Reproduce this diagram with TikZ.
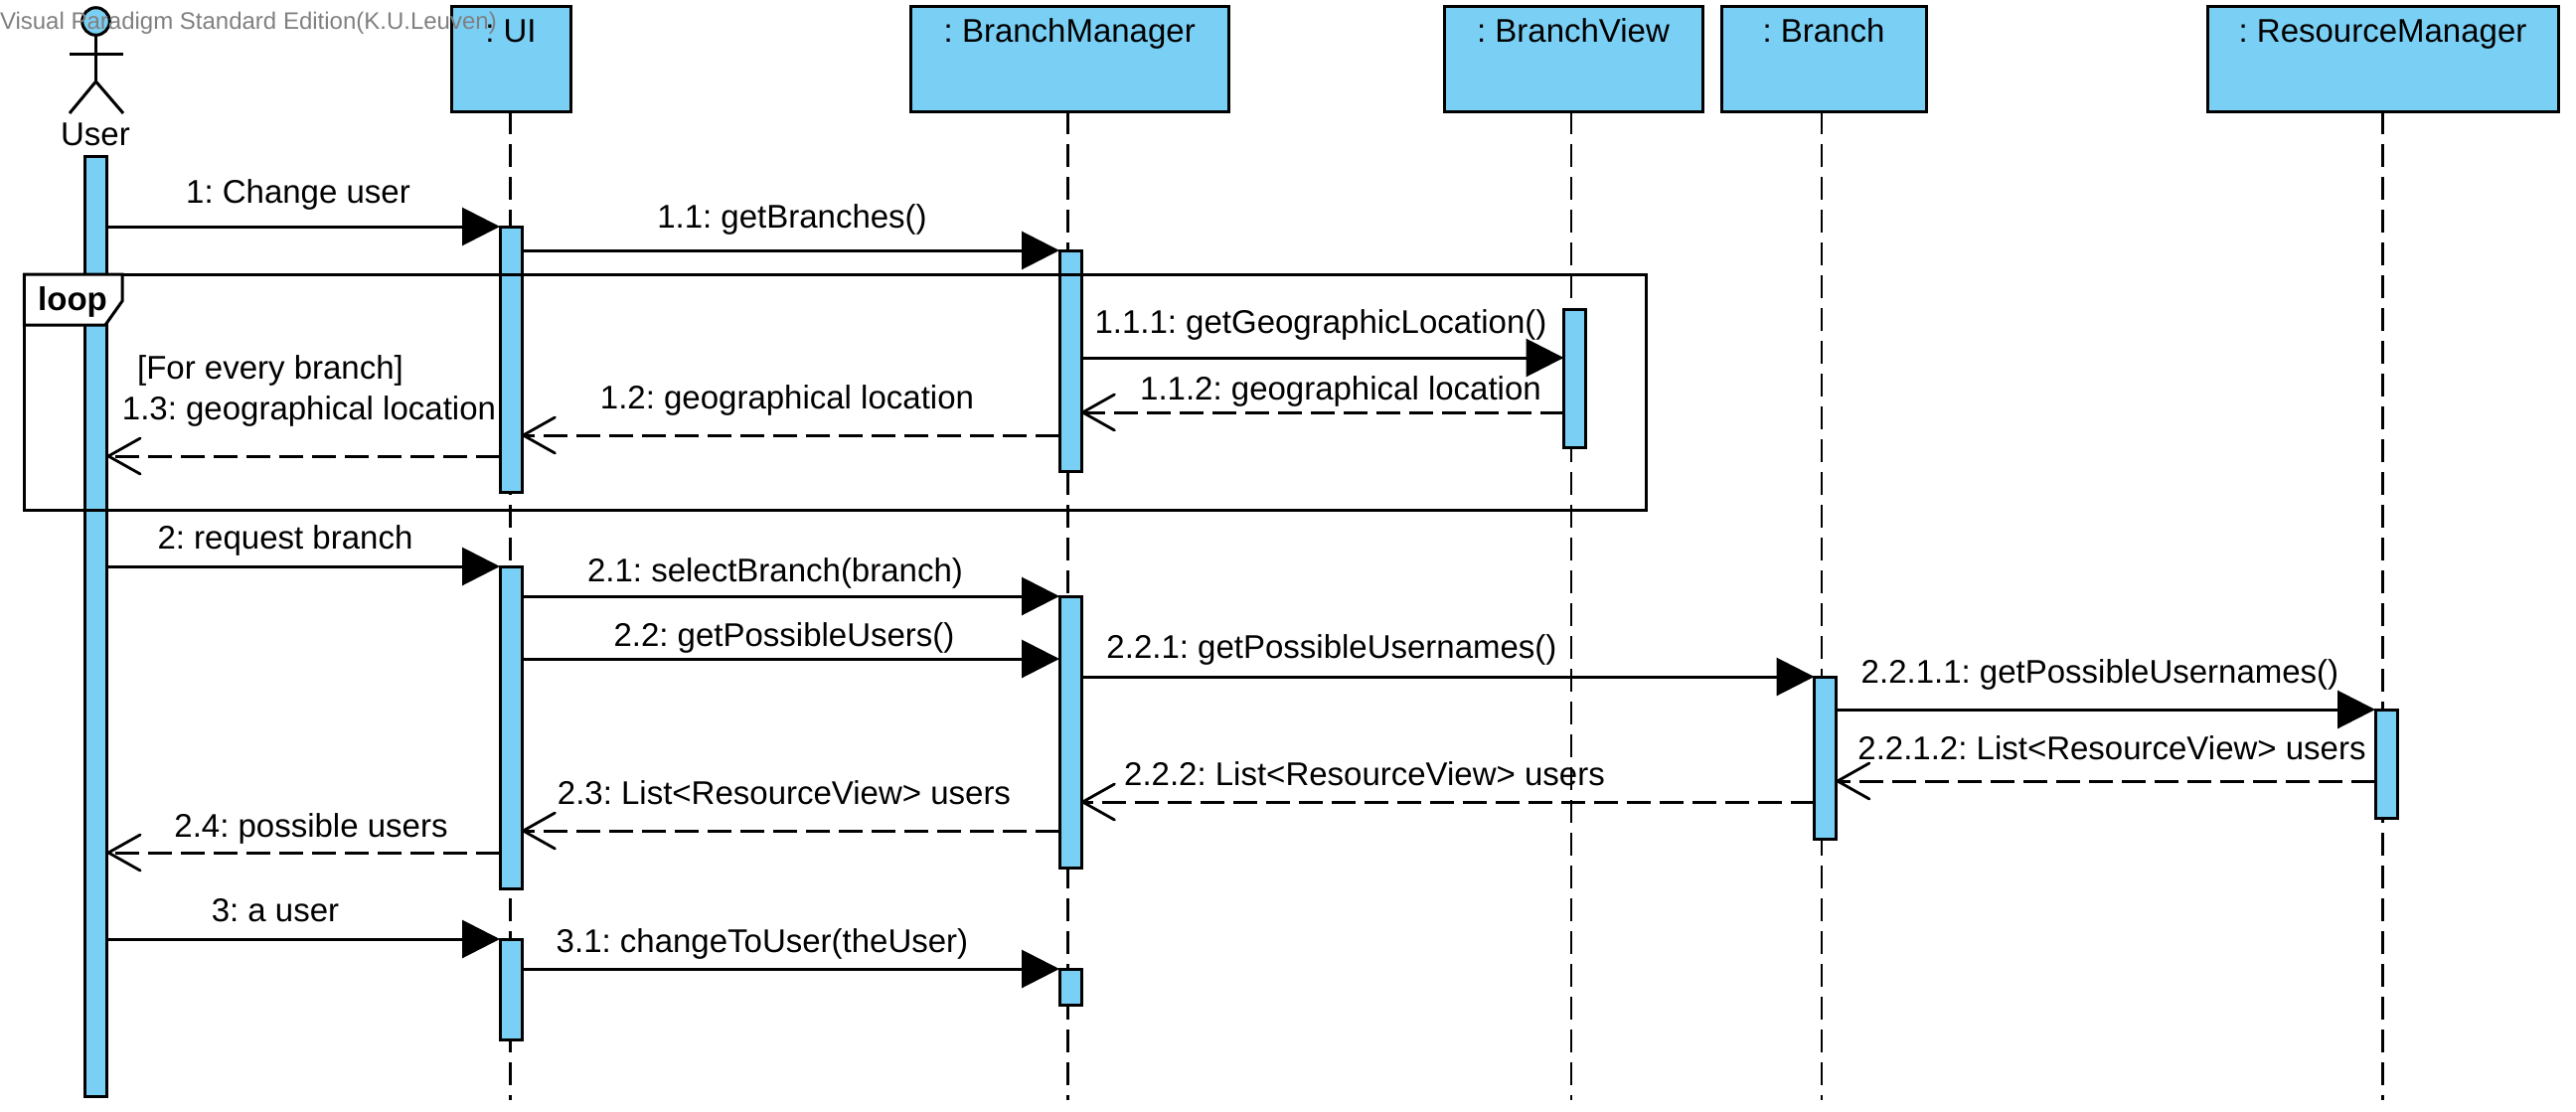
\documentclass[tikz,border=0pt]{standalone}
\usepackage{fontspec}
\setmainfont{Liberation Sans}
\usetikzlibrary{arrows.meta}
\definecolor{vpblue}{RGB}{122,207,245}
\definecolor{wmgrey}{RGB}{128,128,128}
\tikzset{
  head/.style={draw=black,fill=vpblue,line width=1.5pt,minimum height=53pt,inner sep=0pt,outer sep=0pt},
  title/.style={anchor=base,inner sep=0pt,outer sep=0pt,font=\fontsize{16.5pt}{18pt}\selectfont},
  lbl/.style={anchor=base,inner sep=0pt,outer sep=0pt,font=\fontsize{16.5pt}{18pt}\selectfont},
  bar/.style={draw=black,fill=vpblue,line width=1.5pt,minimum width=11pt,inner sep=0pt,outer sep=0pt},
  life/.style={line width=1.4pt,dash pattern=on 11.5pt off 5pt},
  msg/.style={line width=1.5pt,-{Triangle[length=19pt,width=19pt]}},
  ret/.style={line width=1.5pt,dash pattern=on 12pt off 4.5pt,-{Straight Barb[length=16pt,width=18pt,line width=1.4pt,round]}},
  act/.style={line width=1.5pt},
}
\newcommand\headbox[4]{\node[head,minimum width={(#3-#2)*0.5pt}] (#1) at ({(#2+#3)/2},59) {};
  \node[title] (#1t) at ({(#2+#3)/2},42) {#4};}
\newcommand\actbar[4]{\node[bar,minimum height={(#4-#3)*0.5pt}] (#1) at (#2,{(#3+#4)/2}) {};}
\newcommand\lifeline[2]{\draw[life] (#1.south -| #2,0) -- (#2,1107);}
\begin{document}
\frenchspacing
\begin{tikzpicture}[x=0.5pt,y=-0.5pt]
\useasboundingbox (0,0) rectangle (2592,1119);
% heads
\headbox{ui}{454}{574}{: UI}
\headbox{bm}{916.5}{1236}{: BranchManager}
\headbox{bv}{1453}{1713}{: BranchView}
\headbox{br}{1732}{1938}{: Branch}
\headbox{rm}{2221}{2574}{: ResourceManager}
% lifelines
\lifeline{ui}{513.5}\lifeline{bm}{1074.5}\lifeline{bv}{1581}\lifeline{br}{1833}\lifeline{rm}{2397.5}
% actor
\node[draw=black,fill=vpblue,line width=1.5pt,circle,minimum size=13.8pt,inner sep=0pt,outer sep=0pt] (actor) at (96.5,21.5) {};
\coordinate (hip) at (96.5,82);
\coordinate (armL) at (70,54);
\coordinate (armR) at (124,54);
\coordinate (legL) at (70,114);
\coordinate (legR) at (124,114);
\draw[act] (actor.south) -- (hip);
\draw[act] (armL) -- (armR);
\draw[act] (legL) -- (hip) -- (legR);
\node[lbl] (user) at (96,146) {User};
% activations
\actbar{ub}{96.7}{157}{1103}
\actbar{ui1}{514}{228}{495}
\actbar{bm1}{1077}{252}{474}
\actbar{bv1}{1584.5}{311}{450}
\actbar{ui2}{514}{570}{894}
\actbar{bm2}{1077}{600}{873}
\actbar{br1}{1836.5}{681}{844}
\actbar{rm1}{2401}{714}{823}
\actbar{ui3}{514}{945}{1046}
\actbar{bm3}{1077}{975}{1011}
% loop frame
\node[draw=black,line width=1.5pt,minimum width=816.25pt,minimum height=118.5pt,inner sep=0pt,outer sep=0pt] (frame) at (840.5,394.5) {};
\draw[line width=1.5pt,fill=white] (frame.north west) -- (123,276) -- (123,303) -- (106,327) -- (frame.west |- 0,327) -- cycle;
\node[lbl,font=\fontsize{16.5pt}{18pt}\selectfont\bfseries] (looplbl) at (73,312) {loop};
% messages
\draw[msg] (ub.east |- 0,228) -- (ui1.west |- 0,228);
\node[lbl] (l1) at (300,204) {1: Change user};
\draw[msg] (ui1.east |- 0,252) -- (bm1.west |- 0,252);
\node[lbl] (l11) at (797,229) {1.1: getBranches()};
\draw[msg] (bm1.east |- 0,360) -- (bv1.west |- 0,360);
\node[lbl] (l111) at (1329,335) {1.1.1: getGeographicLocation()};
\draw[ret] (bv1.west |- 0,415) -- (bm1.east |- 0,415);
\node[lbl] (l112) at (1349,402) {1.1.2: geographical location};
\draw[ret] (bm1.west |- 0,438) -- (ui1.east |- 0,438);
\node[lbl] (l12) at (792,411) {1.2: geographical location};
\draw[ret] (ui1.west |- 0,459) -- (ub.east |- 0,459);
\node[lbl] (guard) at (272,381) {[For every branch]};
\node[lbl] (l13) at (311,422) {1.3: geographical location};
\draw[msg] (ub.east |- 0,570) -- (ui2.west |- 0,570);
\node[lbl] (l2) at (287,552) {2: request branch};
\draw[msg] (ui2.east |- 0,600) -- (bm2.west |- 0,600);
\node[lbl] (l21) at (780,585) {2.1: selectBranch(branch)};
\draw[msg] (ui2.east |- 0,663) -- (bm2.west |- 0,663);
\node[lbl] (l22) at (789,650) {2.2: getPossibleUsers()};
\draw[msg] (bm2.east |- 0,681) -- (br1.west |- 0,681);
\node[lbl] (l221) at (1340,662) {2.2.1: getPossibleUsernames()};
\draw[msg] (br1.east |- 0,714) -- (rm1.west |- 0,714);
\node[lbl] (l2211) at (2113,687) {2.2.1.1: getPossibleUsernames()};
\draw[ret] (rm1.west |- 0,786) -- (br1.east |- 0,786);
\node[lbl] (l2212) at (2125,764) {2.2.1.2: List<ResourceView> users};
\draw[ret] (br1.west |- 0,807) -- (bm2.east |- 0,807);
\node[lbl] (l222) at (1373,790) {2.2.2: List<ResourceView> users};
\draw[ret] (bm2.west |- 0,836) -- (ui2.east |- 0,836);
\node[lbl] (l23) at (789,809) {2.3: List<ResourceView> users};
\draw[ret] (ui2.west |- 0,858) -- (ub.east |- 0,858);
\node[lbl] (l24) at (313,842) {2.4: possible users};
\draw[msg] (ub.east |- 0,945) -- (ui3.west |- 0,945);
\node[lbl] (l3) at (277,927) {3: a user};
\draw[msg] (ui3.east |- 0,975) -- (bm3.west |- 0,975);
\node[lbl] (l31) at (767,958) {3.1: changeToUser(theUser)};
% watermark
\node[anchor=base west,inner sep=0pt,outer sep=0pt,text=wmgrey,font=\fontsize{12pt}{14pt}\selectfont] (wm) at (0,29) {Visual Paradigm Standard Edition(K.U.Leuven)};
\end{tikzpicture}
\end{document}
